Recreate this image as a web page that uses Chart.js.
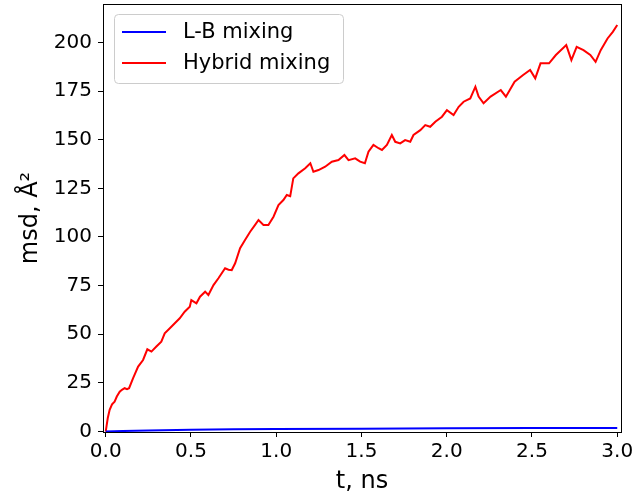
<!DOCTYPE html>
<html>
<head>
<meta charset="utf-8">
<script src="https://cdn.jsdelivr.net/npm/chart.js@4.4.0/dist/chart.umd.min.js"></script>
<style>
  html, body { margin: 0; padding: 0; background: #fff; }
  #wrap { width: 634px; height: 500px; }
</style>
</head>
<body>
<div id="wrap"><canvas id="msdChart" width="634" height="500"></canvas></div>
<script>
// Series data (time in ns, msd in A^2)
const seriesLabels = ['L-B mixing', 'Hybrid mixing'];

const lbTime = [0, 0.1, 0.25, 0.5, 0.75, 1.0, 1.5, 2.0, 2.5, 3.0];
const lbMsd = [0, 0.3, 0.6, 0.9, 1.2, 1.35, 1.5, 1.7, 1.8, 1.9];

const hybridTime = [
  0.000, 0.005, 0.012, 0.023, 0.037, 0.052, 0.065, 0.082, 0.095, 0.111,
  0.125, 0.137, 0.160, 0.190, 0.219, 0.244, 0.268, 0.297, 0.326, 0.346,
  0.376, 0.405, 0.434, 0.463, 0.493, 0.502, 0.532, 0.553, 0.583, 0.602,
  0.632, 0.661, 0.700, 0.720, 0.739, 0.759, 0.788, 0.817, 0.847, 0.876,
  0.896, 0.925, 0.954, 0.984, 1.013, 1.042, 1.062, 1.082, 1.100, 1.130,
  1.170, 1.200, 1.218, 1.248, 1.287, 1.326, 1.365, 1.400, 1.424, 1.463,
  1.492, 1.520, 1.541, 1.570, 1.600, 1.620, 1.649, 1.678, 1.698, 1.727,
  1.756, 1.786, 1.805, 1.845, 1.874, 1.903, 1.933, 1.972, 2.001, 2.040,
  2.070, 2.099, 2.138, 2.168, 2.187, 2.216, 2.257, 2.317, 2.347, 2.398,
  2.448, 2.489, 2.519, 2.550, 2.600, 2.640, 2.701, 2.731, 2.762, 2.802,
  2.842, 2.873, 2.903, 2.943, 2.974, 3.000
];
const hybridMsd = [
  0, 3, 7, 11.2, 14, 15.4, 18, 20.5, 21.5, 22.3,
  21.8, 22.3, 27.4, 33.4, 36.8, 42.3, 41.1, 43.7, 46.2, 50.5,
  53.1, 55.7, 58.2, 61.6, 64.2, 67.6, 65.9, 69.3, 71.9, 70.2,
  75.3, 78.8, 83.9, 83.2, 83.0, 86.5, 94.2, 98.5, 102.7, 106.2,
  108.7, 106.2, 106.2, 110.4, 116.4, 119.0, 121.6, 121.0, 130.1, 132.7,
  135.3, 137.9, 133.5, 134.4, 136.1, 138.7, 139.5, 142.1, 139.5, 140.4,
  138.7, 137.9, 143.8, 147.3, 145.6, 144.7, 147.3, 152.4, 148.9, 148.1,
  149.8, 148.9, 152.4, 154.9, 157.5, 156.6, 159.2, 161.8, 165.2, 162.7,
  166.9, 169.5, 171.2, 177.2, 172.1, 168.7, 172.1, 175.5, 172.1, 179.8,
  183.2, 185.8, 181.5, 189.2, 189.2, 193.5, 198.6, 190.9, 197.7, 196.0,
  193.5, 190.0, 196.0, 202.0, 205.4, 208.9
];

// Axis ticks
const xTicks = [0, 0.5, 1.0, 1.5, 2.0, 2.5, 3.0];
const yTicks = [0, 25, 50, 75, 100, 125, 150, 175, 200];

const toPoints = (xs, ys) => xs.map((x, i) => ({ x: x, y: ys[i] }));
const seriesColors = ['#0000ff', '#ff0000'];

// Frame round the plot area (matplotlib style box)
const framePlugin = {
  id: 'frame',
  afterDraw(chart) {
    const { ctx, chartArea: a } = chart;
    ctx.save();
    ctx.strokeStyle = '#000';
    ctx.lineWidth = 1;
    ctx.strokeRect(Math.round(a.left) + 0.5, Math.round(a.top) + 0.5,
      Math.round(a.right - a.left), Math.round(a.bottom - a.top));
    ctx.restore();
  }
};

// Legend box in the upper left corner
const legendPlugin = {
  id: 'boxLegend',
  afterDatasetsDraw(chart) {
    const { ctx, chartArea: a } = chart;
    const x0 = a.left + 11, y0 = a.top + 10, w = 229, h = 69, r = 4;
    ctx.save();
    ctx.beginPath();
    ctx.roundRect(x0 + 0.5, y0 + 0.5, w, h, r);
    ctx.fillStyle = 'rgba(255,255,255,0.8)';
    ctx.fill();
    ctx.strokeStyle = '#cccccc';
    ctx.lineWidth = 1;
    ctx.stroke();
    ctx.font = '21px "DejaVu Sans"';
    ctx.textBaseline = 'middle';
    ctx.fillStyle = '#000';
    chart.data.datasets.forEach((ds, i) => {
      const y = y0 + 18 + i * 31;
      ctx.beginPath();
      ctx.moveTo(x0 + 8, y);
      ctx.lineTo(x0 + 52, y);
      ctx.strokeStyle = ds.borderColor;
      ctx.lineWidth = 2;
      ctx.stroke();
      ctx.fillText(ds.label, x0 + 69, y + 1);
    });
    ctx.restore();
  }
};

const ctx = document.getElementById('msdChart').getContext('2d');
const msdChart = new Chart(ctx, {
  type: 'line',
  data: {
    datasets: [
      {
        label: seriesLabels[0],
        data: toPoints(lbTime, lbMsd),
        borderColor: seriesColors[0],
        borderWidth: 2,
        pointRadius: 0,
        tension: 0
      },
      {
        label: seriesLabels[1],
        data: toPoints(hybridTime, hybridMsd),
        borderColor: seriesColors[1],
        borderWidth: 2,
        pointRadius: 0,
        tension: 0
      }
    ]
  },
  plugins: [framePlugin, legendPlugin],
  options: {
    responsive: false,
    animation: false,
    layout: { padding: { top: 4, right: 13, left: 0, bottom: 0 } },
    plugins: {
      legend: { display: false },
      tooltip: { enabled: false }
    },
    scales: {
      x: {
        type: 'linear',
        min: -0.016,
        max: 3.022,
        afterFit(scale) {
          scale.height = 68;
          scale.paddingLeft = 0;
          scale.paddingRight = 0;
        },
        afterBuildTicks(scale) { scale.ticks = xTicks.map(v => ({ value: v })); },
        border: { display: false },
        grid: { drawOnChartArea: false, drawTicks: true, tickLength: 5, color: '#000', tickWidth: 1 },
        ticks: {
          color: '#000',
          padding: 3,
          maxRotation: 0,
          font: { family: 'DejaVu Sans', size: 20 },
          callback: v => Number(v).toFixed(1)
        },
        title: {
          display: true,
          text: 't, ns',
          color: '#000',
          font: { family: 'DejaVu Sans', size: 24 },
          padding: { top: 0, bottom: 4 }
        }
      },
      y: {
        type: 'linear',
        min: -0.2,
        max: 219.7,
        afterFit(scale) {
          scale.width = 103;
          scale.paddingTop = 0;
          scale.paddingBottom = 0;
        },
        afterBuildTicks(scale) { scale.ticks = yTicks.map(v => ({ value: v })); },
        border: { display: false },
        grid: { drawOnChartArea: false, drawTicks: true, tickLength: 5, color: '#000', tickWidth: 1 },
        ticks: {
          color: '#000',
          padding: 6,
          font: { family: 'DejaVu Sans', size: 20 },
          callback: v => String(v)
        },
        title: {
          display: true,
          text: 'msd, Å²',
          color: '#000',
          font: { family: 'DejaVu Sans', size: 24 },
          padding: { top: 16, bottom: 0 }
        }
      }
    }
  }
});
</script>
</body>
</html>
